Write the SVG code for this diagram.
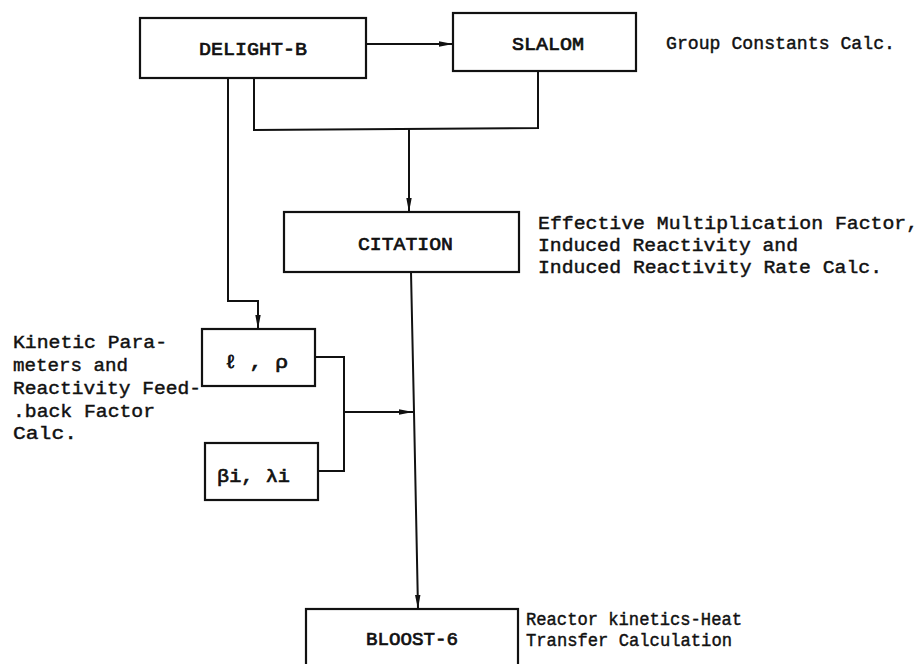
<svg xmlns="http://www.w3.org/2000/svg" width="920" height="664" viewBox="0 0 920 664">
<style>
.box{fill:#fff;stroke:#111;stroke-width:2.2}
.ln{fill:none;stroke:#111;stroke-width:2}
.lbl{font-family:"Liberation Mono","DejaVu Sans Mono",monospace;font-size:19px;fill:#111;stroke:#111;stroke-width:0.7}
.txt{font-family:"Liberation Mono","DejaVu Sans Mono",monospace;font-size:19px;fill:#111;stroke:#111;stroke-width:0.45}
</style>
<defs>
<marker id="ah" viewBox="0 0 14 7" refX="14" refY="3.5" markerWidth="14" markerHeight="7" markerUnits="userSpaceOnUse" orient="auto">
<path d="M0,0.8 L14,3.5 L0,6.2 Z" fill="#111"/>
</marker>
</defs>
<rect width="920" height="664" fill="#fff"/>
<g id="connectors">
<path class="ln" d="M366,44 L453,44" marker-end="url(#ah)"/>
<path class="ln" d="M228,78 L228,301 L258,301 L258,329" marker-end="url(#ah)"/>
<path class="ln" d="M254,78 L254,130 L538,128 L538,71"/>
<path class="ln" d="M409,129 L409,212" marker-end="url(#ah)"/>
<path class="ln" d="M315,357 L344,357 L344,471 L318,471"/>
<path class="ln" d="M344,412 L413,412" marker-end="url(#ah)"/>
<path class="ln" d="M411,272 L414,412 L418,609" marker-end="url(#ah)"/>
</g>
<g id="delight">
<rect class="box" x="140" y="18" width="226" height="60"/>
<text class="lbl" x="199" y="55" textLength="108" lengthAdjust="spacingAndGlyphs">DELIGHT-B</text>
</g>
<g id="slalom">
<rect class="box" x="453" y="13" width="183" height="58"/>
<text class="lbl" x="512" y="50" textLength="72" lengthAdjust="spacingAndGlyphs">SLALOM</text>
</g>
<g id="citation">
<rect class="box" x="284" y="212" width="235" height="60"/>
<text class="lbl" x="358" y="250" textLength="95" lengthAdjust="spacingAndGlyphs">CITATION</text>
</g>
<g id="lrho">
<rect class="box" x="202" y="329" width="113" height="57"/>
<text class="lbl" x="224" y="368" textLength="64" lengthAdjust="spacingAndGlyphs">ℓ , ρ</text>
</g>
<g id="betalambda">
<rect class="box" x="205" y="443" width="113" height="57"/>
<text class="lbl" x="217" y="482" textLength="73" lengthAdjust="spacingAndGlyphs">βi, λi</text>
</g>
<g id="bloost">
<rect class="box" x="306" y="609" width="212" height="60"/>
<text class="lbl" x="366" y="645" textLength="92" lengthAdjust="spacingAndGlyphs">BLOOST-6</text>
</g>
<g id="notes">
<text class="txt" x="666" y="49" textLength="229" lengthAdjust="spacingAndGlyphs">Group Constants Calc.</text>
<text class="txt" x="538" y="229" textLength="380" lengthAdjust="spacingAndGlyphs">Effective Multiplication Factor,</text>
<text class="txt" x="538" y="251" textLength="260" lengthAdjust="spacingAndGlyphs">Induced Reactivity and</text>
<text class="txt" x="538" y="273" textLength="344" lengthAdjust="spacingAndGlyphs">Induced Reactivity Rate Calc.</text>
<text class="txt" x="13" y="348" textLength="154" lengthAdjust="spacingAndGlyphs">Kinetic Para-</text>
<text class="txt" x="13" y="371" textLength="115" lengthAdjust="spacingAndGlyphs">meters and</text>
<text class="txt" x="13" y="394" textLength="188" lengthAdjust="spacingAndGlyphs">Reactivity Feed-</text>
<text class="txt" x="13" y="417" textLength="142" lengthAdjust="spacingAndGlyphs">.back Factor</text>
<text class="txt" x="13" y="439" textLength="64" lengthAdjust="spacingAndGlyphs">Calc.</text>
<text class="txt" x="526" y="625" textLength="216" lengthAdjust="spacingAndGlyphs">Reactor kinetics-Heat</text>
<text class="txt" x="526" y="646" textLength="206" lengthAdjust="spacingAndGlyphs">Transfer Calculation</text>
</g>
</svg>
